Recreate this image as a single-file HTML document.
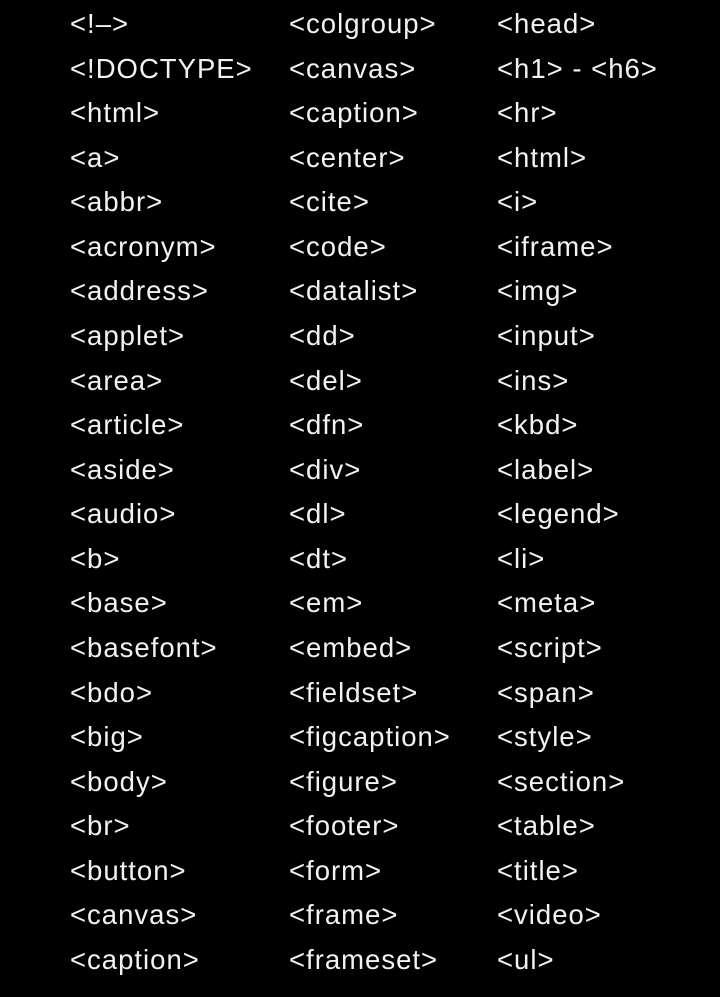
<!DOCTYPE html>
<html><head><style>
html,body{margin:0;padding:0;background:#000;}
body{width:720px;height:997px;position:relative;overflow:hidden;font-family:"Liberation Sans",sans-serif;color:#f2f2f2;font-size:27.5px;}
.c{position:absolute;left:0;top:0;}
.c div{position:absolute;white-space:nowrap;line-height:30px;letter-spacing:1px;}
</style></head><body>
<div id="root"></div>
<script>
var cols=[[70,["<!–>","<!DOCTYPE>","<html>","<a>","<abbr>","<acronym>","<address>","<applet>","<area>","<article>","<aside>","<audio>","<b>","<base>","<basefont>","<bdo>","<big>","<body>","<br>","<button>","<canvas>","<caption>"]],
[289,["<colgroup>","<canvas>","<caption>","<center>","<cite>","<code>","<datalist>","<dd>","<del>","<dfn>","<div>","<dl>","<dt>","<em>","<embed>","<fieldset>","<figcaption>","<figure>","<footer>","<form>","<frame>","<frameset>"]],
[497,["<head>","<h1> - <h6>","<hr>","<html>","<i>","<iframe>","<img>","<input>","<ins>","<kbd>","<label>","<legend>","<li>","<meta>","<script>","<span>","<style>","<section>","<table>","<title>","<video>","<ul>"]]];
var r=document.getElementById('root');r.className='c';
cols.forEach(function(c){c[1].forEach(function(t,i){var d=document.createElement('div');d.textContent=t;d.style.left=c[0]+'px';d.style.top=(9+i*44.57)+'px';r.appendChild(d);});});
</script>
</body></html>
